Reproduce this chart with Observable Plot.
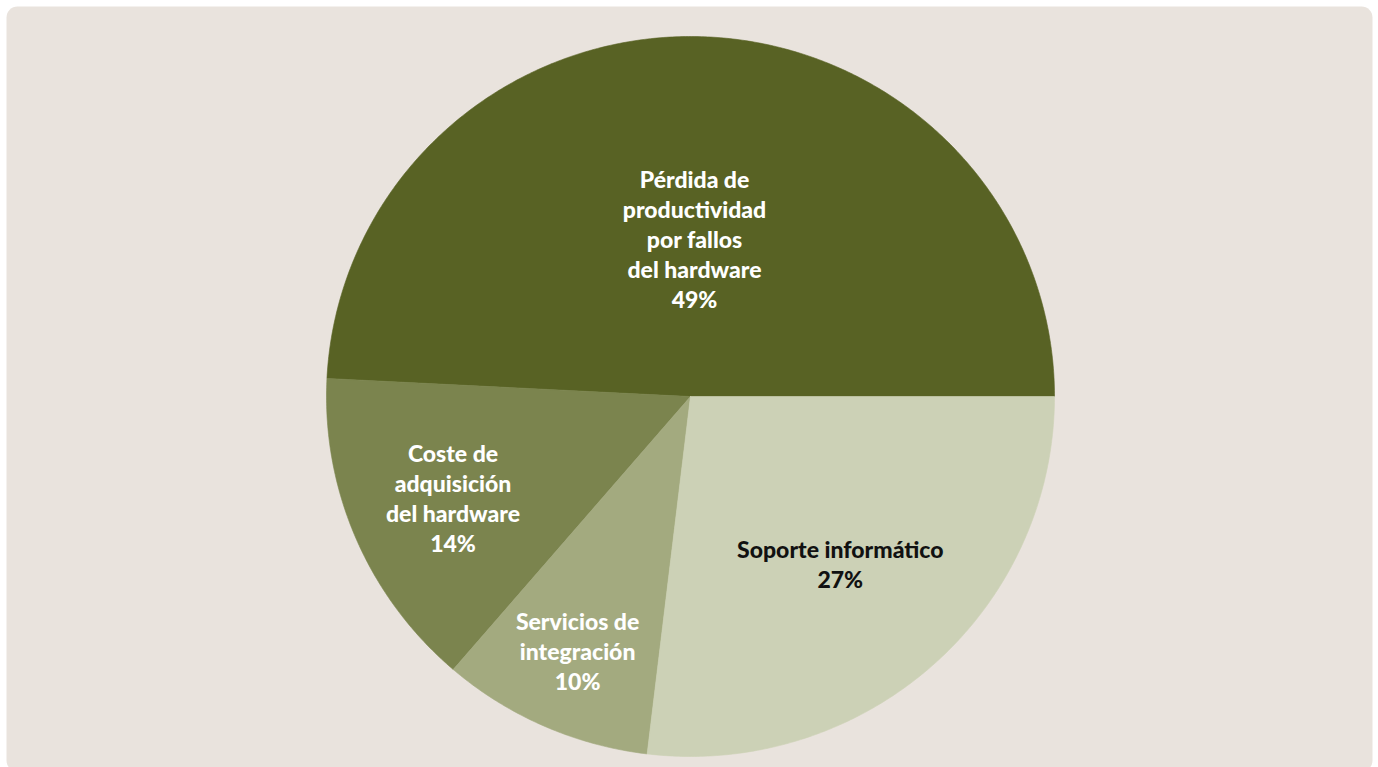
<!DOCTYPE html>
<html>
<head>
<meta charset="utf-8">
<script src="https://cdn.jsdelivr.net/npm/d3@7"></script>
<script src="https://cdn.jsdelivr.net/npm/@observablehq/plot@0.6"></script>
<style>
  html, body { margin: 0; padding: 0; background: #ffffff; }
  #chart svg { display: block; }
</style>
</head>
<body>
<div id="chart"></div>
<script>
// ---- Data ----
const categories = [
  "Pérdida de\nproductividad\npor fallos\ndel hardware",
  "Coste de\nadquisición\ndel hardware",
  "Servicios de\nintegración",
  "Soporte informático"
];
const shares = [49.2, 14.5, 9.4, 26.9];      // slice sizes (% of total)
const percentLabels = ["49%", "14%", "10%", "27%"];

// ---- Styling / layout ----
const sliceColors = ["#586224", "#7b844e", "#a3aa7f", "#ccd1b6"];
const textColors  = ["#ffffff", "#ffffff", "#ffffff", "#111111"];
const labelRadius = [0.44, 0.71, 0.77, 0.62]; // fraction of radius for label placement

const W = 1378, H = 767;
const cx = 690, cy = 396, rx = 364, ry = 360;

// pie angles (d3 convention: clockwise from 12 o'clock); start at 3 o'clock going counter-clockwise
const arcs = d3.pie().sort(null).value(d => d.share)
  .startAngle(Math.PI / 2).endAngle(Math.PI / 2 - 2 * Math.PI)(
    categories.map((c, i) => ({i, name: c, share: shares[i]}))
  );

// polygon vertices for each slice in unit-circle data coordinates
const slicePts = [];
for (const a of arcs) {
  const i = a.data.i;
  const n = Math.max(8, Math.ceil(Math.abs(a.endAngle - a.startAngle) / (Math.PI / 360)));
  slicePts.push({slice: i, x: 0, y: 0});
  for (let k = 0; k <= n; k++) {
    const t = a.startAngle + (a.endAngle - a.startAngle) * k / n;
    slicePts.push({slice: i, x: Math.sin(t), y: Math.cos(t)});
  }
  slicePts.push({slice: i, x: 0, y: 0});
}

const labels = arcs.map(a => {
  const i = a.data.i;
  const mid = (a.startAngle + a.endAngle) / 2;
  return {
    slice: i,
    x: labelRadius[i] * Math.sin(mid),
    y: labelRadius[i] * Math.cos(mid),
    text: categories[i] + "\n" + percentLabels[i]
  };
});

const chart = Plot.plot({
  width: W,
  height: H,
  margin: 0,
  style: {background: "transparent"},
  x: {domain: [-1, 1], range: [cx - rx, cx + rx], axis: null},
  y: {domain: [-1, 1], range: [cy + ry, cy - ry], axis: null},
  color: {domain: d3.range(categories.length), range: sliceColors},
  marks: [
    Plot.frame({fill: "#e9e3dd", stroke: "none", rx: 11, insetLeft: 6, insetTop: 6, insetRight: 6, insetBottom: -4}),
    Plot.line(slicePts, {
      x: "x", y: "y", z: "slice",
      fill: "slice", stroke: "slice", strokeWidth: 0.6,
      curve: "linear"
    }),
    Plot.text(labels, {
      x: "x", y: "y", text: "text",
      fill: d => textColors[d.slice],
      fontFamily: "Lato, 'Noto Sans', sans-serif",
      fontWeight: 900,
      fontSize: 23,
      lineHeight: 1.3,
      lineAnchor: "middle",
      textAnchor: "middle",
      style: "letter-spacing: 0.2px"
    })
  ]
});

document.getElementById("chart").appendChild(chart);
</script>
</body>
</html>
